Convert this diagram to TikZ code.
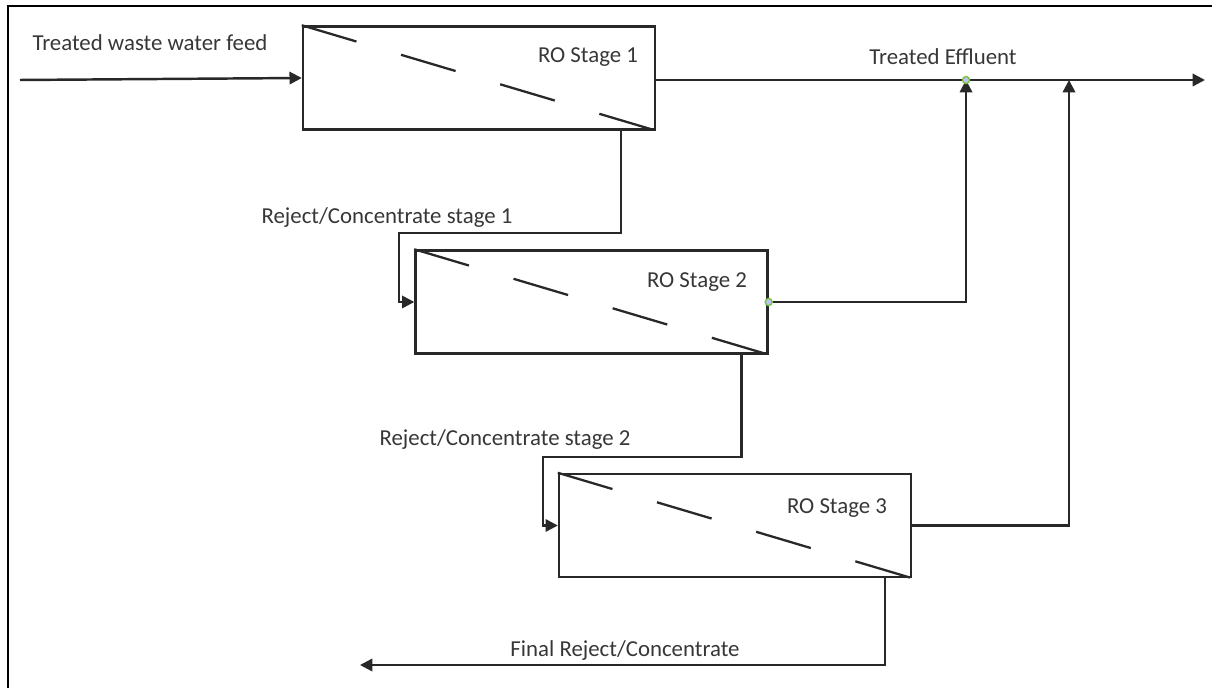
\documentclass[tikz,border=0pt]{standalone}
\usepackage{fontspec}
\setmainfont{Carlito}
\definecolor{linegray}{RGB}{40, 40, 40}
\definecolor{textgray}{RGB}{55, 55, 55}
\definecolor{handlegreen}{RGB}{120, 200, 60}
\usepackage{tikz}
\usetikzlibrary{arrows.meta, positioning, calc}

\begin{document}
\begin{tikzpicture}[x=0.02cm, y=-0.02cm,
    stage/.style={draw=linegray, line width=1.4pt, minimum width=7.04cm, minimum height=2.06cm, inner sep=0pt},
    flow/.style={draw=linegray, line width=1.4pt},
    flowarrow/.style={flow, -{Triangle[length=7pt, width=7pt]}},
    membrane/.style={linegray, line width=1.3pt, dash pattern={on 1.14cm off 0.93cm}},
    lbl/.style={font=\fontsize{13}{15}\selectfont, text=textgray, inner sep=0pt}]
  \useasboundingbox (0,0) rectangle (1212,688);

  % Frame
  \draw[line width=1.4pt] (1212,6) -- (8,6) -- (8,688);

  % RO stages
  \node[stage] (b1) at (479,78) {};
  \node[stage] (b2) at (591.5,302) {};
  \node[stage] (b3) at (735,525.5) {};
  \foreach \b in {b1, b2, b3}
    \draw[membrane] (\b.north west) -- (\b.south east);

  \node[lbl] (t1) at (588,57) {RO Stage 1};
  \node[lbl] (t2) at (697,282) {RO Stage 2};
  \node[lbl] (t3) at (837,508) {RO Stage 3};

  % Feed and treated effluent
  \coordinate (feed) at (20,80);
  \coordinate (effluent) at (1205,80);
  \coordinate (m1) at (966,80);
  \coordinate (m2) at (1069,80);
  \draw[flowarrow] (feed) -- (b1.west);
  \node[lbl] (feedlbl) at (150,43) {Treated waste water feed};
  \draw[flowarrow] (b1.east |- effluent) -- (effluent);
  \node[lbl] (efflbl) at (943,57) {Treated Effluent};

  % Permeate from stages 2 and 3
  \draw[flowarrow] (b2.east) -| (m1);
  \draw[flowarrow] (b3.east) -| (m2);

  % Reject / concentrate
  \coordinate (j1) at (399,233);
  \coordinate (j2) at (543,457);
  \coordinate (reject) at (360,665);
  \draw[flowarrow] ($(b1.south east)+(-35,0)$) |- (j1) |- (b2.west);
  \node[lbl] (r1lbl) at (387,218) {Reject/Concentrate stage 1};
  \draw[flowarrow] ($(b2.south east)+(-27,0)$) |- (j2) |- (b3.west);
  \node[lbl] (r2lbl) at (505,440) {Reject/Concentrate stage 2};
  \draw[flowarrow] ($(b3.south east)+(-27,0)$) |- (reject);
  \node[lbl] (r3lbl) at (625,651) {Final Reject/Concentrate};

  % Selection handles
  \draw[handlegreen, line width=0.8pt, fill=blue!25] (m1) circle (3.5);
  \draw[handlegreen, line width=0.8pt, fill=blue!25] (b2.east) circle (3.5);
\end{tikzpicture}
\end{document}
